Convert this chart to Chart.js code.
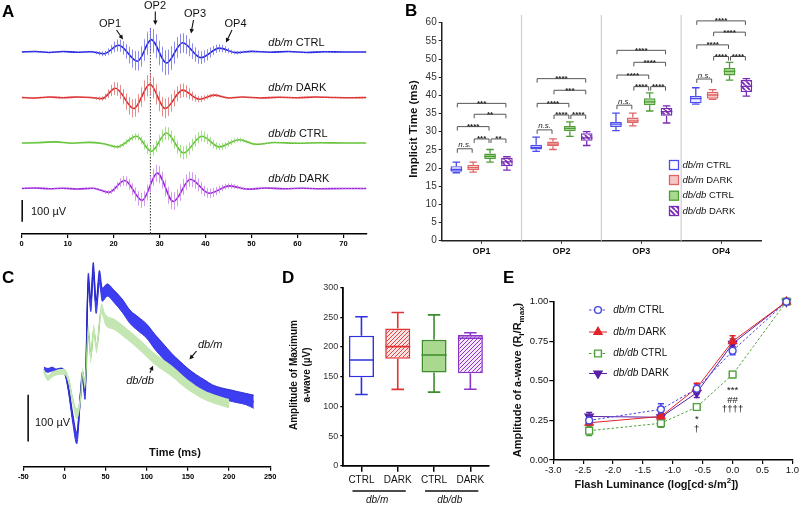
<!DOCTYPE html>
<html><head><meta charset="utf-8">
<script src="https://cdn.jsdelivr.net/npm/chart.js@4/dist/chart.umd.min.js"></script>
<style>
html,body{margin:0;padding:0;background:#fff;width:800px;height:506px;overflow:hidden;}
canvas{position:absolute;}
</style></head><body>
<canvas id="cA" width="400" height="258" style="left:0;top:0"></canvas>
<canvas id="cB" width="410" height="262" style="left:390px;top:0"></canvas>
<canvas id="cC" width="290" height="244" style="left:0;top:262px"></canvas>
<canvas id="cD" width="225" height="244" style="left:270px;top:262px"></canvas>
<canvas id="cE" width="305" height="244" style="left:495px;top:262px"></canvas>
<script>
// ================= DATA =================
// Panel A: oscillatory potentials (time ms, mean µV, SEM µV)
const aTimeDbmCtrl = [0,3,6,9,12,15,17.9,21.1,25.2,28.2,31.5,35.0,39.0,43.0,46.7,50,54,58,62,66,70,75];
const aMeanDbmCtrl = [0,2,-2,2,-1,1,-8,31,-43,57,-51,43,-26,18,-3,3,-1,2,-2,1,0,0];
const aSemDbmCtrl  = [2,2,2,2,2,4,12,28,45,55,58,45,30,18,8,3,2,2,2,2,2,2];
const aTimeDbmDark = [0,3,6,9,12,15,17.5,20.4,24.4,27.9,31.2,35.0,38.6,41.9,45,48,52,56,60,64,68,72,75];
const aMeanDbmDark = [0,-2,2,-1,2,0,-5,43,-51,61,-51,34,-8,11,-2,2,-2,1,-1,2,0,-1,0];
const aSemDbmDark  = [2,2,2,2,2,3,10,30,42,50,45,32,15,8,4,3,2,2,2,2,2,2,2];
const aTimeDbdbCtrl = [0,3,7.3,11,14.6,17.5,20.8,25.0,28.2,31.5,35.2,39.2,43.0,47.3,51,55,60,65,70,75];
const aMeanDbdbCtrl = [0,1,5,-1,3,-2,-18,31,-38,46,-46,31,-18,15,-6,2,-1,1,0,0];
const aSemDbdbCtrl  = [2,2,2,2,2,3,8,15,25,30,30,25,16,10,5,3,2,2,2,2];
const aTimeDbdbDark = [0,3,6,9,12,15.5,18.95,22.4,26.2,29.5,33.0,36.7,40.8,45.2,49.2,53,57,61,65,70,75];
const aMeanDbdbDark = [0,2,-1,1,-2,1,-18,37,-55,71,-60,43,-22,12,-3,2,-1,1,-1,0,0];
const aSemDbdbDark  = [2,2,2,2,2,3,10,22,35,40,40,35,22,12,5,3,2,2,2,2,2];
const aOpMarkerTime = 28;

// Panel B: implicit time box statistics [min, q1, median, q3, max] per OP
const opCategories = ['OP1','OP2','OP3','OP4'];
const bDbmCtrl  = [[18.7,19.0,19.6,20.5,21.6],[24.6,25.1,25.7,26.4,28.5],[30.3,31.3,32.1,32.7,35.1],[37.6,37.8,39.1,39.8,42.1]];
const bDbmDark  = [[18.9,19.4,20.1,20.9,21.6],[25.1,26.0,26.6,27.3,28.0],[31.6,32.4,33.0,33.9,35.1],[38.9,39.1,40.1,41.0,41.6]];
const bDbdbCtrl = [[21.6,22.5,23.2,24.0,25.1],[28.7,30.1,30.9,31.6,32.7],[35.7,37.3,38.2,39.2,40.7],[44.2,45.5,46.6,47.5,49.1]];
const bDbdbDark = [[19.4,20.5,21.7,22.8,23.1],[26.2,27.5,28.3,29.6,30.0],[32.4,34.4,35.5,36.6,37.1],[39.8,40.9,42.5,44.2,44.6]];
// significance brackets: [OP index, group a, group b, height (ms), label]
const bSignif = [
 [0,0,1,25.3,'n.s.'],[0,1,2,28.0,'***'],[0,2,3,28.0,'**'],[0,0,2,31.4,'****'],[0,1,3,34.8,'**'],[0,0,3,37.8,'***'],
 [1,0,1,30.5,'n.s.'],[1,1,2,34.6,'****'],[1,2,3,34.6,'****'],[1,0,2,37.8,'****'],[1,1,3,41.4,'***'],[1,0,3,44.6,'****'],
 [2,0,1,37.3,'n.s.'],[2,1,2,42.4,'****'],[2,2,3,42.4,'****'],[2,0,2,45.6,'****'],[2,1,3,49.1,'****'],[2,0,3,52.4,'****'],
 [3,0,1,44.5,'n.s.'],[3,1,2,50.7,'****'],[3,2,3,50.7,'****'],[3,0,2,53.9,'****'],[3,1,3,57.4,'****'],[3,0,3,60.5,'****']
];

// Panel C: a-wave traces (time ms, mean µV, SEM µV)
const cTimeDbm = [-25,-20,-15,-10,-5,0,5,10,15,19,22,25,29,32,35,38.5,42.5,46,52,60,70,80,90,100,110,120,130,140,150,160,170,180,190,200,210,220,230];
const cMeanDbm = [4,1,4,0,2,-2,-40,-100,-144,-62,-9,-51,195,141,218,137,201,163,173,160,140,115,100,85,62,42,22,5,-10,-22,-32,-42,-48,-52,-56,-60,-66];
const cSemDbm  = [4,4,4,4,4,4,6,10,12,10,8,10,14,14,14,14,14,14,13,13,14,14,15,15,16,16,16,16,15,14,13,12,12,12,12,12,14];
const cTimeDbdb = [-25,-20,-15,-10,-5,0,5,10,15,20,22,25,29,32,35.5,39,45,50,60,75,90,110,130,150,170,185,200];
const cMeanDbdb = [-2,-15,-8,-4,-2,-2,-19,-62,-92,-51,-2,-30,88,28,88,49,133,109,100,80,58,25,0,-30,-52,-62,-70];
const cSemDbdb  = [6,6,6,6,6,6,8,10,12,10,8,10,12,12,12,12,12,12,12,12,12,12,12,11,10,10,10];

// Panel D: maximum a-wave amplitude [min, q1, median, q3, max]
const dCategories = ['CTRL','DARK','CTRL','DARK'];
const dStats = [[120,149,178,219,251],[128.6,180,200.6,231,258],[124,157,186.5,212,254],[128.7,155.6,214.6,220,224]];

// Panel E: normalized a-wave vs flash luminance
const eLuminance = [-2.4,-1.2,-0.6,0.0,0.9];
const eDbmCtrl  = [0.25,0.32,0.45,0.69,1.0];
const eDbmDark  = [0.235,0.275,0.455,0.75,1.0];
const eDbdbCtrl = [0.185,0.232,0.335,0.54,1.0];
const eDbdbDark = [0.275,0.27,0.425,0.735,1.0];
const eErrDbmCtrl  = [0.03,0.035,0.03,0.025,0.01];
const eErrDbmDark  = [0.03,0.03,0.03,0.035,0.01];
const eErrDbdbCtrl = [0.03,0.025,0.02,0.02,0.01];
const eErrDbdbDark = [0.025,0.025,0.03,0.03,0.01];

// ================= HELPERS =================
const FF = '"Liberation Sans", Arial, Helvetica, sans-serif';
Chart.defaults.font.family = FF;
Chart.defaults.color = '#111';
Chart.defaults.animation = false;
Chart.defaults.plugins.legend.display = false;
Chart.defaults.plugins.tooltip.enabled = false;
Chart.defaults.responsive = false;

function rich(ctx,x,y,parts,size,align,weight,color){
  weight = weight||'normal';
  const fontFor = p => `${p.i?'italic ':''}${weight} ${(p.sub||p.sup)?Math.round(size*0.72):size}px ${FF}`;
  let w=0; parts.forEach(p=>{ctx.font=fontFor(p); w+=ctx.measureText(p.t).width;});
  let cx = align==='center'? x-w/2 : align==='right'? x-w : x;
  ctx.textAlign='left'; ctx.textBaseline='middle'; ctx.fillStyle=color||'#111';
  parts.forEach(p=>{ctx.font=fontFor(p); const dy=p.sub?size*0.32:p.sup?-size*0.38:0; ctx.fillText(p.t,cx,y+dy); cx+=ctx.measureText(p.t).width;});
}
function vrich(ctx,x,y,parts,size,weight){ctx.save();ctx.translate(x,y);ctx.rotate(-Math.PI/2);rich(ctx,0,0,parts,size,'center',weight);ctx.restore();}
function letter(ctx,ch,x,y){ctx.save();ctx.font=`bold 17px ${FF}`;ctx.fillStyle='#000';ctx.textAlign='left';ctx.textBaseline='middle';ctx.fillText(ch,x,y);ctx.restore();}
function arrow(ctx,x1,y1,x2,y2,color){
  ctx.save(); ctx.strokeStyle=color||'#111'; ctx.fillStyle=color||'#111'; ctx.lineWidth=1.1;
  const a=Math.atan2(y2-y1,x2-x1), h=4.5;
  ctx.beginPath(); ctx.moveTo(x1,y1); ctx.lineTo(x2-Math.cos(a)*h*0.8,y2-Math.sin(a)*h*0.8); ctx.stroke();
  ctx.beginPath(); ctx.moveTo(x2,y2);
  ctx.lineTo(x2-h*Math.cos(a)+h*0.5*Math.sin(a), y2-h*Math.sin(a)-h*0.5*Math.cos(a));
  ctx.lineTo(x2-h*Math.cos(a)-h*0.5*Math.sin(a), y2-h*Math.sin(a)+h*0.5*Math.cos(a));
  ctx.closePath(); ctx.fill(); ctx.restore();
}
function vlinePattern(color, period){
  const c=document.createElement('canvas'); c.width=period; c.height=2;
  const x=c.getContext('2d'); x.fillStyle=color; x.fillRect(0,0,1,2);
  return x.createPattern(c,'repeat');
}
function stripePattern(fg,bg,size,lw,dir){
  const c=document.createElement('canvas'); c.width=size; c.height=size;
  const x=c.getContext('2d'); if(bg){x.fillStyle=bg;x.fillRect(0,0,size,size);}
  x.strokeStyle=fg; x.lineWidth=lw; x.beginPath();
  for(let k=-1;k<=1;k++){
    if(dir>0){x.moveTo(k*size,size);x.lineTo(k*size+size,0);}
    else {x.moveTo(k*size,0);x.lineTo(k*size+size,size);}
  }
  x.stroke(); return x.createPattern(c,'repeat');
}
const P=(t,o)=>Object.assign({t},o||{});
const axisX = (extra)=>Object.assign({
  border:{display:true,color:'#000',width:1.6},
  grid:{display:true,drawOnChartArea:false,drawTicks:true,tickLength:4,color:'#000',lineWidth:1.2}
},extra);

// ================= PANEL A =================
(function(){
  const traces=[
    {name:[P('db/m',{i:1}),P(' CTRL')], t:aTimeDbmCtrl,m:aMeanDbmCtrl,s:aSemDbmCtrl,line:'#2323e0',hatch:'rgba(110,110,235,0.8)',off:840},
    {name:[P('db/m',{i:1}),P(' DARK')], t:aTimeDbmDark,m:aMeanDbmDark,s:aSemDbmDark,line:'#dd2a2a',hatch:'rgba(225,110,110,0.8)',off:630},
    {name:[P('db/db',{i:1}),P(' CTRL')],t:aTimeDbdbCtrl,m:aMeanDbdbCtrl,s:aSemDbdbCtrl,line:'#62c032',hatch:'rgba(140,215,110,0.8)',off:420},
    {name:[P('db/db',{i:1}),P(' DARK')],t:aTimeDbdbDark,m:aMeanDbdbDark,s:aSemDbdbDark,line:'#9a22d8',hatch:'rgba(200,130,235,0.8)',off:210}
  ];
  const ds=[];
  traces.forEach(tr=>{
    const pat=vlinePattern(tr.hatch,3);
    ds.push({data:tr.t.map((t,i)=>({x:t,y:tr.off+tr.m[i]+tr.s[i]})),borderWidth:0,pointRadius:0,fill:'+1',backgroundColor:pat,cubicInterpolationMode:'monotone'});
    ds.push({data:tr.t.map((t,i)=>({x:t,y:tr.off+tr.m[i]-tr.s[i]})),borderWidth:0,pointRadius:0,fill:false,cubicInterpolationMode:'monotone'});
    ds.push({data:tr.t.map((t,i)=>({x:t,y:tr.off+tr.m[i]})),borderColor:tr.line,borderWidth:1.6,pointRadius:0,fill:false,cubicInterpolationMode:'monotone'});
  });
  new Chart(document.getElementById('cA'),{
    type:'line', data:{datasets:ds},
    options:{
      layout:{padding:{left:21.7,right:33.6,top:0,bottom:0}},
      scales:{
        x:axisX({type:'linear',min:0,max:75,ticks:{stepSize:10,includeBounds:false,padding:1,color:'#000',font:{size:7.5,weight:'bold'}},afterFit:s=>{s.height=24;}}),
        y:{display:false,min:0,max:1080}
      }
    },
    plugins:[{id:'annA',
      beforeDatasetsDraw(c){
        const ctx=c.ctx,x=c.scales.x; const px=x.getPixelForValue(aOpMarkerTime);
        ctx.save(); ctx.strokeStyle='#333'; ctx.lineWidth=1; ctx.setLineDash([1.5,1.5]);
        ctx.beginPath(); ctx.moveTo(px,28); ctx.lineTo(px,c.chartArea.bottom); ctx.stroke(); ctx.restore();
      },
      afterDraw(c){
        const ctx=c.ctx,x=c.scales.x,y=c.scales.y;
        letter(ctx,'A',2,12.5);
        traces.forEach(tr=>rich(ctx,268.3,y.getPixelForValue(tr.off)-9.5,tr.name,11,'left'));
        rich(ctx,110,24.3,[P('OP1')],11,'center'); arrow(ctx,116.5,30,123,39.5);
        rich(ctx,155,5.8,[P('OP2')],11,'center'); arrow(ctx,155.3,11.5,155.3,25);
        rich(ctx,195,14,[P('OP3')],11,'center'); arrow(ctx,193.5,20,191,33.5);
        rich(ctx,235.5,24,[P('OP4')],11,'center'); arrow(ctx,232,30,226,42.5);
        // 100 µV scale bar
        const bx=x.getPixelForValue(0)+0.5;
        ctx.save(); ctx.strokeStyle='#111'; ctx.lineWidth=1.6; ctx.beginPath();
        ctx.moveTo(bx,y.getPixelForValue(57)); ctx.lineTo(bx,y.getPixelForValue(157)); ctx.stroke(); ctx.restore();
        rich(ctx,31,212,[P('100 µV')],11,'left');
      }}]
  });
})();

// ================= PANEL B =================
(function(){
  const stats=[bDbmCtrl,bDbmDark,bDbdbCtrl,bDbdbDark];
  const borders=['#4b4bef','#e06464','#4f9c3a','#7a2cb4'];
  const fills=['#ececff','#f5c8c8','#a9d98f',stripePattern('#7a2cb4','#ffffff',5,1.9,-1)];
  const names=[[P('db/m',{i:1}),P(' CTRL')],[P('db/m',{i:1}),P(' DARK')],[P('db/db',{i:1}),P(' CTRL')],[P('db/db',{i:1}),P(' DARK')]];
  const legendFills=['#ffffff','#f5c8c8','#a9d98f',fills[3]];
  const ds=stats.map((st,i)=>({data:st.map(s=>[s[1],s[3]]),backgroundColor:fills[i],borderColor:borders[i],borderWidth:1.4,borderSkipped:false,barPercentage:0.69,categoryPercentage:0.845}));
  new Chart(document.getElementById('cB'),{
    type:'bar', data:{labels:opCategories,datasets:ds},
    options:{
      layout:{padding:{left:0,right:39,top:22.7,bottom:0}},
      scales:{
        x:{offset:true,border:{display:true,color:'#222',width:1.5},
           grid:{display:true,offset:false,drawOnChartArea:false,tickLength:3,color:'#222'},
           ticks:{autoSkip:false,maxRotation:0,padding:2,color:'#111',font:{size:9,weight:'bold'}},afterFit:s=>{s.height=21.3;}},
        y:{min:0,max:60,border:{display:true,color:'#222',width:1.5},
           grid:{display:true,drawOnChartArea:false,tickLength:3,color:'#222'},
           ticks:{stepSize:5,padding:2,color:'#333',font:{size:10}},afterFit:s=>{s.width=51.7;}}
      }
    },
    plugins:[{id:'annB',
      beforeDatasetsDraw(c){
        const ctx=c.ctx,x=c.scales.x;
        ctx.save(); ctx.strokeStyle='#cfcfcf'; ctx.lineWidth=1.2;
        for(let i=0;i<opCategories.length-1;i++){
          const bx=(x.getPixelForTick(i)+x.getPixelForTick(i+1))/2;
          ctx.beginPath(); ctx.moveTo(bx,15); ctx.lineTo(bx,c.chartArea.bottom); ctx.stroke();
        }
        ctx.restore();
      },
      afterDatasetsDraw(c){
        const ctx=c.ctx,y=c.scales.y;
        stats.forEach((st,di)=>{
          const meta=c.getDatasetMeta(di);
          meta.data.forEach((el,j)=>{
            const {x,width}=el.getProps(['x','width'],true); const s=st[j]; const cw=width*0.65;
            ctx.save(); ctx.strokeStyle=borders[di]; ctx.lineWidth=1.3; ctx.beginPath();
            ctx.moveTo(x,y.getPixelForValue(s[3])); ctx.lineTo(x,y.getPixelForValue(s[4]));
            ctx.moveTo(x-cw/2,y.getPixelForValue(s[4])); ctx.lineTo(x+cw/2,y.getPixelForValue(s[4]));
            ctx.moveTo(x,y.getPixelForValue(s[1])); ctx.lineTo(x,y.getPixelForValue(s[0]));
            ctx.moveTo(x-cw/2,y.getPixelForValue(s[0])); ctx.lineTo(x+cw/2,y.getPixelForValue(s[0]));
            ctx.moveTo(x-width/2,y.getPixelForValue(s[2])); ctx.lineTo(x+width/2,y.getPixelForValue(s[2]));
            ctx.stroke(); ctx.restore();
          });
        });
      },
      afterDraw(c){
        const ctx=c.ctx,y=c.scales.y;
        bSignif.forEach(b=>{
          const xa=c.getDatasetMeta(b[1]).data[b[0]].x+1, xb=c.getDatasetMeta(b[2]).data[b[0]].x-1;
          const py=y.getPixelForValue(b[3]);
          ctx.save(); ctx.strokeStyle='#555'; ctx.lineWidth=1; ctx.beginPath();
          ctx.moveTo(xa,py+4); ctx.lineTo(xa,py); ctx.lineTo(xb,py); ctx.lineTo(xb,py+4); ctx.stroke();
          ctx.fillStyle='#222'; ctx.textAlign='center'; ctx.textBaseline='alphabetic';
          if(b[4]==='n.s.'){ctx.font=`italic 8px ${FF}`; ctx.fillText(b[4],(xa+xb)/2,py-1.5);}
          else {ctx.font=`bold 8px ${FF}`; ctx.fillText(b[4],(xa+xb)/2,py+2.5);}
          ctx.restore();
        });
        // legend
        const rows=[165,180,195.7,211];
        rows.forEach((ry,i)=>{
          ctx.save(); ctx.fillStyle=legendFills[i]; ctx.fillRect(279.5,ry-4.5,9,9);
          ctx.strokeStyle=borders[i]; ctx.lineWidth=1.3; ctx.strokeRect(279.5,ry-4.5,9,9); ctx.restore();
          rich(ctx,292.5,ry,names[i],9.5,'left');
        });
        vrich(ctx,24,129,[P('Implicit Time (ms)')],11.5,'bold');
        letter(ctx,'B',15,11);
      }}]
  });
})();

// ================= PANEL C =================
(function(){
  const traces=[
    {t:cTimeDbdb,m:cMeanDbdb,s:cSemDbdb,fill:'#c3e6b3',edge:'rgba(0,0,0,0)',edgeW:0,line:'#74c452'},
    {t:cTimeDbm,m:cMeanDbm,s:cSemDbm,fill:'#3d3df2',edge:'#2424c8',edgeW:0.9,line:'#1c1ca6'}
  ];
  const ds=[];
  traces.forEach(tr=>{
    ds.push({data:tr.t.map((t,i)=>({x:t,y:tr.m[i]+tr.s[i]})),borderColor:tr.edge,borderWidth:tr.edgeW,pointRadius:0,fill:'+1',backgroundColor:tr.fill,cubicInterpolationMode:'monotone'});
    ds.push({data:tr.t.map((t,i)=>({x:t,y:tr.m[i]-tr.s[i]})),borderColor:tr.edge,borderWidth:tr.edgeW,pointRadius:0,fill:false,cubicInterpolationMode:'monotone'});
    ds.push({data:tr.t.map((t,i)=>({x:t,y:tr.m[i]})),borderColor:tr.line,borderWidth:1.4,pointRadius:0,fill:false,cubicInterpolationMode:'monotone'});
  });
  new Chart(document.getElementById('cC'),{
    type:'line', data:{datasets:ds},
    options:{
      clip:false,
      layout:{padding:{left:23.3,right:19.8,top:0,bottom:0}},
      scales:{
        x:axisX({type:'linear',min:-50,max:250,ticks:{stepSize:50,padding:2,color:'#000',font:{size:7.5,weight:'bold'}},afterFit:s=>{s.height=39.3;}}),
        y:{display:false,min:-205,max:233}
      }
    },
    plugins:[{id:'annC',afterDraw(c){
      const ctx=c.ctx,x=c.scales.x,y=c.scales.y;
      letter(ctx,'C',2,16);
      const bx=x.getPixelForValue(-44.1);
      ctx.save(); ctx.strokeStyle='#111'; ctx.lineWidth=1.6; ctx.beginPath();
      ctx.moveTo(bx,y.getPixelForValue(-151)); ctx.lineTo(bx,y.getPixelForValue(-51)); ctx.stroke(); ctx.restore();
      rich(ctx,35,161,[P('100 µV')],11,'left');
      rich(ctx,175,191.3,[P('Time (ms)')],11,'center','bold');
      rich(ctx,198,83,[P('db/m',{i:1})],11,'left'); arrow(ctx,196.5,89,189.5,97.5);
      rich(ctx,140,118.7,[P('db/db',{i:1})],11,'center'); arrow(ctx,150,110.7,153,103.8);
    }}]
  });
})();

// ================= PANEL D =================
(function(){
  const borders=['#3030e0','#e03434','#3e8c2c','#8a34c8'];
  const fills=['#ffffff',stripePattern('#e04a4a','#fbe3e3',4,1,1),'#a9d98f',stripePattern('#8a34c8','#f3e8fb',4,1,1)];
  new Chart(document.getElementById('cD'),{
    type:'bar',
    data:{labels:dCategories,datasets:[{data:dStats.map(s=>[s[1],s[3]]),backgroundColor:fills,borderColor:borders,borderWidth:1.6,borderSkipped:false,barPercentage:0.69,categoryPercentage:1}]},
    options:{
      layout:{padding:{left:0,right:6.5,top:25.6,bottom:0}},
      scales:{
        x:{offset:true,border:{display:true,color:'#000',width:1.8},
           grid:{display:true,offset:false,drawOnChartArea:false,tickLength:6,color:'#000',lineWidth:1.5},
           ticks:{autoSkip:false,maxRotation:0,padding:3,color:'#111',font:{size:10}},afterFit:s=>{s.height=40.3;}},
        y:{min:0,max:300,border:{display:true,color:'#000',width:1.8},
           grid:{display:true,drawOnChartArea:false,tickLength:3,color:'#000',lineWidth:1.2},
           ticks:{stepSize:50,padding:2,color:'#333',font:{size:9}},afterFit:s=>{s.width=73.3;}}
      }
    },
    plugins:[{id:'annD',
      afterDatasetsDraw(c){
        const ctx=c.ctx,y=c.scales.y; const meta=c.getDatasetMeta(0);
        meta.data.forEach((el,j)=>{
          const {x,width}=el.getProps(['x','width'],true); const s=dStats[j]; const cw=width*0.5;
          ctx.save(); ctx.strokeStyle=borders[j]; ctx.lineWidth=1.6; ctx.beginPath();
          ctx.moveTo(x,y.getPixelForValue(s[3])); ctx.lineTo(x,y.getPixelForValue(s[4]));
          ctx.moveTo(x-cw/2,y.getPixelForValue(s[4])); ctx.lineTo(x+cw/2,y.getPixelForValue(s[4]));
          ctx.moveTo(x,y.getPixelForValue(s[1])); ctx.lineTo(x,y.getPixelForValue(s[0]));
          ctx.moveTo(x-cw/2,y.getPixelForValue(s[0])); ctx.lineTo(x+cw/2,y.getPixelForValue(s[0]));
          ctx.moveTo(x-width/2,y.getPixelForValue(s[2])); ctx.lineTo(x+width/2,y.getPixelForValue(s[2]));
          ctx.stroke(); ctx.restore();
        });
      },
      afterDraw(c){
        const ctx=c.ctx,x=c.scales.x;
        letter(ctx,'D',12,16);
        vrich(ctx,24.3,113,[P('Amplitude of Maximum')],10,'bold');
        vrich(ctx,37.3,113,[P('a-wave (µV)')],10,'bold');
        const groups=[[0,1,[P('db/m',{i:1})]],[2,3,[P('db/db',{i:1})]]];
        groups.forEach(g=>{
          const x1=x.getPixelForTick(g[0])-9, x2=x.getPixelForTick(g[1])+8;
          ctx.save(); ctx.strokeStyle='#111'; ctx.lineWidth=1.6; ctx.beginPath(); ctx.moveTo(x1,229); ctx.lineTo(x2,229); ctx.stroke(); ctx.restore();
          rich(ctx,(x1+x2)/2-2,238.5,g[2],10,'center');
        });
      }}]
  });
})();

// ================= PANEL E =================
(function(){
  const series=[
    {name:[P('db/m',{i:1}),P(' CTRL')],v:eDbmCtrl,e:eErrDbmCtrl,col:'#4747e6',style:'circle',r:3.4,bg:'#ffffff',dash:[2.5,2],rot:0},
    {name:[P('db/m',{i:1}),P(' DARK')],v:eDbmDark,e:eErrDbmDark,col:'#e0242a',style:'triangle',r:4.6,bg:'#e0242a',dash:[],rot:0},
    {name:[P('db/db',{i:1}),P(' CTRL')],v:eDbdbCtrl,e:eErrDbdbCtrl,col:'#4ea03a',style:'rect',r:4.8,bg:'#ffffff',dash:[2.5,2],rot:0},
    {name:[P('db/db',{i:1}),P(' DARK')],v:eDbdbDark,e:eErrDbdbDark,col:'#5a1fa6',style:'triangle',r:4.6,bg:'#5a1fa6',dash:[],rot:180}
  ];
  const ds=series.map(s=>({data:eLuminance.map((x,i)=>({x,y:s.v[i]})),borderColor:s.col,borderWidth:1,borderDash:s.dash,
    pointStyle:s.style,pointRadius:s.r,pointRotation:s.rot,pointBackgroundColor:s.bg,pointBorderColor:s.col,pointBorderWidth:1.4,fill:false,tension:0,clip:false}));
  new Chart(document.getElementById('cE'),{
    type:'line', data:{datasets:ds},
    options:{
      layout:{padding:{left:0,right:7,top:39.7,bottom:0}},
      scales:{
        x:{type:'linear',min:-3,max:1,border:{display:true,color:'#000',width:1.6},
           grid:{display:true,drawOnChartArea:false,tickLength:4,color:'#000',lineWidth:1.2},
           ticks:{stepSize:0.5,padding:1,color:'#111',font:{size:9.5},callback:v=>v.toFixed(1)},afterFit:s=>{s.height=46;}},
        y:{min:0,max:1,border:{display:true,color:'#000',width:1.6},
           grid:{display:true,drawOnChartArea:false,tickLength:4,color:'#000',lineWidth:1.2},
           ticks:{stepSize:0.25,padding:1,color:'#111',font:{size:9.5},callback:v=>v.toFixed(2)},afterFit:s=>{s.width=58.3;}}
      }
    },
    plugins:[{id:'annE',
      beforeDatasetsDraw(c){
        const ctx=c.ctx,y=c.scales.y;
        series.forEach((s,di)=>{
          c.getDatasetMeta(di).data.forEach((pt,j)=>{
            const px=pt.x, y1=y.getPixelForValue(s.v[j]-s.e[j]), y2=y.getPixelForValue(s.v[j]+s.e[j]);
            ctx.save(); ctx.strokeStyle=s.col; ctx.lineWidth=1.4; ctx.beginPath();
            ctx.moveTo(px,y1); ctx.lineTo(px,y2); ctx.moveTo(px-3,y1); ctx.lineTo(px+3,y1); ctx.moveTo(px-3,y2); ctx.lineTo(px+3,y2);
            ctx.stroke(); ctx.restore();
          });
        });
      },
      afterDraw(c){
        const ctx=c.ctx,x=c.scales.x,y=c.scales.y;
        letter(ctx,'E',8,16);
        // legend
        const rows=[48,70,91.5,111.5];
        series.forEach((s,i)=>{
          const ry=rows[i];
          ctx.save(); ctx.strokeStyle=s.col; ctx.lineWidth=1; ctx.setLineDash(s.dash); ctx.beginPath(); ctx.moveTo(94,ry); ctx.lineTo(112,ry); ctx.stroke(); ctx.restore();
          ctx.save(); ctx.strokeStyle=s.col; ctx.fillStyle=s.bg; ctx.lineWidth=1.4;
          Chart.helpers.drawPoint(ctx,{pointStyle:s.style,radius:s.r,rotation:s.rot,borderWidth:1.4},103,ry);
          ctx.restore();
          rich(ctx,118.3,ry,s.name,10,'left');
        });
        // significance marks
        const mk=(t,xv,yv)=>{rich(ctx,x.getPixelForValue(xv),y.getPixelForValue(yv),[P(t)],9.5,'center');};
        mk('*',-0.6,0.255); mk('†',-0.6,0.196);
        mk('***',0,0.442); mk('##',0,0.379); mk('††††',0,0.322);
        // titles
        vrich(ctx,23,118,[P('Amplitude of a-wave (R'),P('i',{sub:1}),P('/R'),P('max',{sub:1}),P(')')],11,'bold');
        rich(ctx,161.5,223,[P('Flash Luminance (log[cd·s/m'),P('2',{sup:1}),P('])')],11,'center','bold');
      }}]
  });
})();
</script>
</body></html>
